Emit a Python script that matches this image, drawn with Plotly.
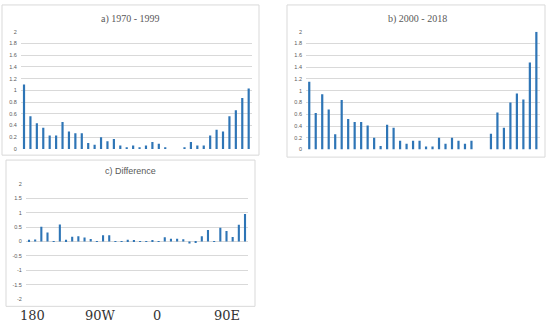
import plotly.graph_objects as go

# ---- data -------------------------------------------------------------
lon_bins = ["175W", "165W", "155W", "145W", "135W", "125W", "115W", "105W", "95W",
            "85W", "75W", "65W", "55W", "45W", "35W", "25W", "15W", "5W",
            "5E", "15E", "25E", "35E", "45E", "55E", "65E", "75E", "85E",
            "95E", "105E", "115E", "125E", "135E", "145E", "155E", "165E", "175E"]

freq_1970_1999 = [1.10, 0.56, 0.44, 0.36, 0.23, 0.23, 0.46, 0.30, 0.27, 0.27, 0.10, 0.07,
                  0.20, 0.13, 0.17, 0.06, 0.03, 0.06, 0.03, 0.06, 0.12, 0.09, 0.03, 0.00,
                  0.00, 0.03, 0.12, 0.06, 0.06, 0.23, 0.33, 0.30, 0.56, 0.66, 0.87, 1.03]

freq_2000_2018 = [1.15, 0.62, 0.94, 0.68, 0.26, 0.84, 0.52, 0.47, 0.47, 0.41, 0.20, 0.06,
                  0.42, 0.37, 0.15, 0.10, 0.15, 0.15, 0.05, 0.05, 0.20, 0.10, 0.20, 0.15,
                  0.10, 0.15, 0.00, 0.00, 0.27, 0.63, 0.37, 0.80, 0.95, 0.85, 1.48, 2.00]

freq_difference = [0.06, 0.07, 0.51, 0.31, 0.02, 0.59, 0.06, 0.17, 0.18, 0.14, 0.09, 0.01,
                   0.22, 0.22, 0.01, 0.02, 0.06, 0.05, 0.01, 0.01, 0.05, 0.01, 0.15, 0.10,
                   0.10, 0.08, -0.07, -0.03, 0.18, 0.40, 0.02, 0.48, 0.37, 0.16, 0.58, 0.96]

ticks_ab = [0, 0.2, 0.4, 0.6, 0.8, 1.0, 1.2, 1.4, 1.6, 1.8, 2.0]
ticklabels_ab = ["0", "0.2", "0.4", "0.6", "0.8", "1", "1.2", "1.4", "1.6", "1.8", "2"]
ticks_c = [-2, -1.5, -1, -0.5, 0, 0.5, 1, 1.5, 2]
ticklabels_c = ["-2", "-1.5", "-1", "-0.5", "0", "0.5", "1", "1.5", "2"]

titles = ["a) 1970 - 1999", "b) 2000 - 2018", "c) Difference"]
lon_labels = ["180", "90W", "0", "90E"]

# ---- layout helpers ---------------------------------------------------
W, H = 550, 327
BLUE = "#2E75B6"
GRID = "#d9d9d9"
LABEL = "#595959"


def fx(x):
    return x / W


def fy(y):
    return 1 - y / H


fig = go.Figure()
for series, ax in [(freq_1970_1999, ""), (freq_2000_2018, "2"), (freq_difference, "3")]:
    fig.add_bar(x=lon_bins, y=series, xaxis="x" + ax, yaxis="y" + ax,
                marker=dict(color=BLUE, line=dict(width=0)), showlegend=False,
                hoverinfo="skip")

xcommon = dict(type="category", showticklabels=False, showgrid=False, showline=False,
               zeroline=False, ticks="", fixedrange=True)
ycommon = dict(showgrid=True, gridcolor=GRID, gridwidth=1, showline=False, zeroline=False,
               ticks="", tickfont=dict(family="Liberation Sans", size=5.5, color=LABEL),
               ticklabelstandoff=3, fixedrange=True)

fig.update_layout(
    width=W, height=H, autosize=False,
    margin=dict(l=0, r=0, t=0, b=0),
    paper_bgcolor="white", plot_bgcolor="white",
    bargap=0.66,
    xaxis=dict(domain=[fx(20.8), fx(251.9)], anchor="y", **xcommon),
    yaxis=dict(domain=[fy(148.7), fy(29.3)], anchor="x", range=[0, 2],
               tickvals=ticks_ab, ticktext=ticklabels_ab, **ycommon),
    xaxis2=dict(domain=[fx(306.0), fx(539.6)], anchor="y2", **xcommon),
    yaxis2=dict(domain=[fy(149.3), fy(29.3)], anchor="x2", range=[0, 2],
                tickvals=ticks_ab, ticktext=ticklabels_ab, **ycommon),
    xaxis3=dict(domain=[fx(25.9), fx(248.1)], anchor="y3", **xcommon),
    yaxis3=dict(domain=[fy(301.7), fy(184.3)], anchor="x3", range=[-2, 2],
                tickvals=ticks_c, ticktext=ticklabels_c, **ycommon),
)

# panel frames
boxes = [(2, 2, 259, 155), (287, 2, 545, 157), (6, 160, 255, 309)]
for x0, y0, x1, y1 in boxes:
    fig.add_shape(type="rect", xref="paper", yref="paper",
                  x0=fx(x0), x1=fx(x1), y0=fy(y1), y1=fy(y0),
                  line=dict(color=GRID, width=1), fillcolor="rgba(0,0,0,0)", layer="below")

# panel titles
title_pos = [(130.5, 16, "Liberation Serif", 10), (417, 16, "Liberation Serif", 10),
             (130.5, 171, "Liberation Sans", 9)]
for t, (x, y, fam, sz) in zip(titles, title_pos):
    fig.add_annotation(text=t, xref="paper", yref="paper", x=fx(x), y=fy(y),
                       xanchor="center", yanchor="middle", showarrow=False,
                       font=dict(family=fam, size=sz, color=LABEL))

# longitude labels under panel c
lon_pos = [32, 100, 157, 227]
for t, x in zip(lon_labels, lon_pos):
    fig.add_annotation(text=t, xref="paper", yref="paper", x=fx(x), y=fy(318),
                       xanchor="center", yanchor="middle", showarrow=False,
                       font=dict(family="DejaVu Serif", size=13, color="#333333"))

fig.write_html("out.html", config={"displayModeBar": False},
               post_script="document.body.style.margin='0';document.body.style.overflow='hidden';")
